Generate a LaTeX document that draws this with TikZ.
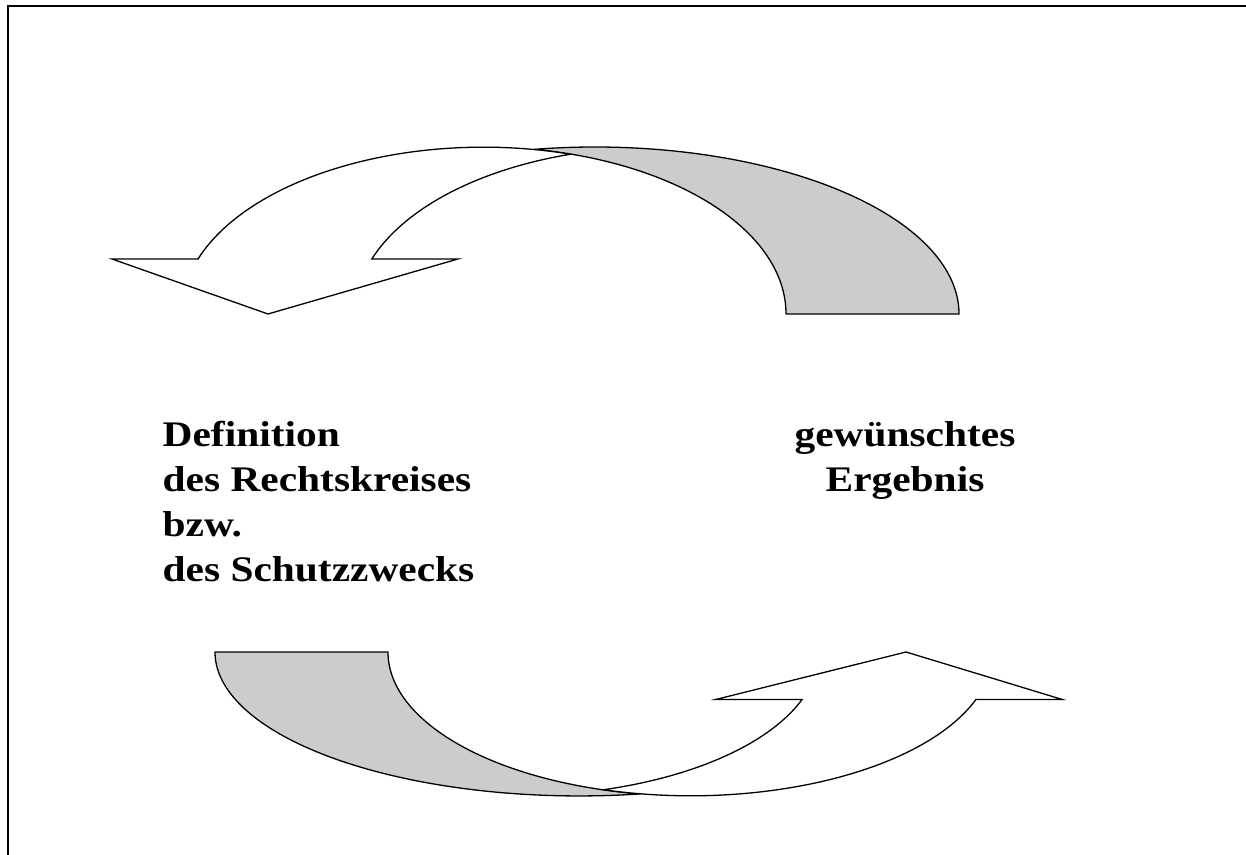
\documentclass[tikz,border=0pt]{standalone}
\usepackage{fontspec}
\setmainfont{Liberation Serif}
\tikzset{
  frameline/.style={draw=black,line width=2pt,line cap=rect},
  backband/.style={draw=black,fill=bandColor,line width=1.3pt,line join=round},
  frontband/.style={draw=black,fill=white,line width=1.3pt,line join=miter},
  blocktext/.style={inner sep=0pt,outer sep=0pt,xscale=1.15,
    font=\bfseries\fontsize{36}{45}\selectfont}
}
\begin{document}
\begin{tikzpicture}[x=1pt,y=1pt]
\definecolor{bandColor}{RGB}{204,204,204}
\path[use as bounding box,fill=white] (0,0) rectangle (1246,854);

% frame, open at the right and at the bottom
\path[frameline] (   7.50,  0.00) -- (   7.50,848.00) -- (1246.00,848.00);

% upper arrow, bending to the left
\begin{scope}[shift={(0,540)}]
\path[backband] ([shift={(595,0)}]99.6:364 and 167)
	arc[start angle=99.6,end angle=0,x radius=364,y radius=167] --
	(786.00,  0.00)
	arc[start angle=0,end angle=80.4,x radius=302.5,y radius=167] -- cycle;
\path[frontband] (112.00, 55.00) --
	(198.00, 55.00)
	arc[start angle=160.7,end angle=73.3,x radius=302.5,y radius=167]
	arc[start angle=106.7,end angle=160.7,x radius=302.5,y radius=167] --
	(458.00, 55.00) --
	(268.00,  0.00) -- cycle;
\end{scope}

% lower arrow, the same shape turned round and flattened
\begin{scope}[shift={(1174,202)},xscale=-1,yscale=-0.862]
\path[backband] ([shift={(595,0)}]99.6:364 and 167)
	arc[start angle=99.6,end angle=0,x radius=364,y radius=167] --
	(786.00,  0.00)
	arc[start angle=0,end angle=80.4,x radius=302.5,y radius=167] -- cycle;
\path[frontband] (112.00, 55.00) --
	(198.00, 55.00)
	arc[start angle=160.7,end angle=73.3,x radius=302.5,y radius=167]
	arc[start angle=106.7,end angle=160.7,x radius=302.5,y radius=167] --
	(458.00, 55.00) --
	(268.00,  0.00) -- cycle;
\end{scope}

% base of a multi-line node is its last line
\node[blocktext,anchor=base west,align=left] (scope) at (162.70,272.30)
	{Definition\\des Rechtskreises\\bzw.\\des Schutzzwecks};

\node[blocktext,anchor=base,align=center] (result) at (905.00,362.30)
	{gewünschtes\\Ergebnis};
\end{tikzpicture}
\end{document}
